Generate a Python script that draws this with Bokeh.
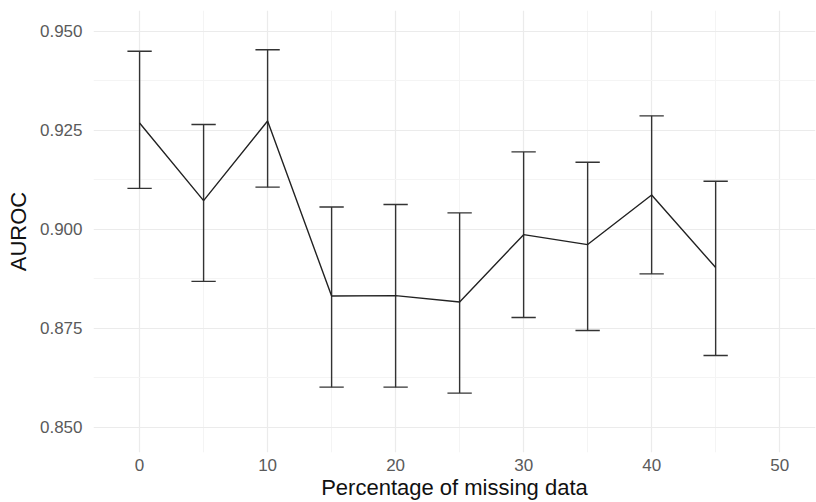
from bokeh.plotting import figure
from bokeh.models import FixedTicker, PrintfTickFormatter, ColumnDataSource, Range1d
from bokeh.embed import file_html
from bokeh.resources import INLINE

# Data
pct = [0, 5, 10, 15, 20, 25, 30, 35, 40, 45]
auroc = [0.9268, 0.9072, 0.9273, 0.8831, 0.8832, 0.8816, 0.8986, 0.8961, 0.9086, 0.8903]
upper = [0.9449, 0.9264, 0.9453, 0.9056, 0.9062, 0.9041, 0.9195, 0.9169, 0.9286, 0.9121]
lower = [0.9103, 0.8868, 0.9106, 0.8601, 0.8601, 0.8586, 0.8777, 0.8744, 0.8887, 0.8681]

x_ticks = [0, 10, 20, 30, 40, 50]
x_minor = [5, 15, 25, 35, 45]
y_ticks = [0.850, 0.875, 0.900, 0.925, 0.950]
y_minor = [0.8625, 0.8875, 0.9125, 0.9375]

cap_half = 0.95

src = ColumnDataSource(dict(
    x=pct, y=auroc, up=upper, lo=lower,
    xl=[v - cap_half for v in pct], xr=[v + cap_half for v in pct],
))

FONT = "Liberation Sans"

p = figure(width=816, height=502, output_backend="svg", toolbar_location=None,
           x_range=Range1d(-3.6, 52.8), y_range=Range1d(0.8436, 0.9552),
           min_border_left=93, min_border_right=1, min_border_top=10, min_border_bottom=42)
p.outline_line_color = None
p.background_fill_color = "white"
p.border_fill_color = "white"

# error bars
p.segment(x0="x", y0="lo", x1="x", y1="up", source=src, line_color="#333333", line_width=1.4)
p.segment(x0="xl", y0="up", x1="xr", y1="up", source=src, line_color="#333333", line_width=1.4)
p.segment(x0="xl", y0="lo", x1="xr", y1="lo", source=src, line_color="#333333", line_width=1.4)
# mean line
p.line(x="x", y="y", source=src, line_color="#222222", line_width=1.4)

p.xaxis.ticker = FixedTicker(ticks=x_ticks, minor_ticks=x_minor)
p.yaxis.ticker = FixedTicker(ticks=y_ticks, minor_ticks=y_minor)
p.yaxis.formatter = PrintfTickFormatter(format="%.3f")

for ax in (p.xaxis, p.yaxis):
    ax.axis_line_color = None
    ax.major_tick_line_color = None
    ax.minor_tick_line_color = None
    ax.major_tick_out = 0
    ax.major_tick_in = 0
    ax.major_label_text_font = FONT
    ax.major_label_text_font_size = "17px"
    ax.major_label_text_color = "#5a5a5a"
    ax.axis_label_text_font = FONT
    ax.axis_label_text_font_size = "22px"
    ax.axis_label_text_font_style = "normal"
    ax.axis_label_text_color = "#111111"

p.xaxis.axis_label = "Percentage of missing data"
p.yaxis.axis_label = "AUROC"
p.xaxis.major_label_standoff = 2
p.xaxis.axis_label_standoff = 1
p.yaxis.major_label_standoff = 7
p.yaxis.axis_label_standoff = 6

p.xgrid.grid_line_color = "#ebebeb"
p.ygrid.grid_line_color = "#ebebeb"
p.xgrid.grid_line_width = 1.2
p.ygrid.grid_line_width = 1.2
p.xgrid.minor_grid_line_color = "#f4f4f4"
p.ygrid.minor_grid_line_color = "#f4f4f4"
p.xgrid.minor_grid_line_width = 1
p.ygrid.minor_grid_line_width = 1

open("out.html", "w").write(file_html(p, INLINE))
